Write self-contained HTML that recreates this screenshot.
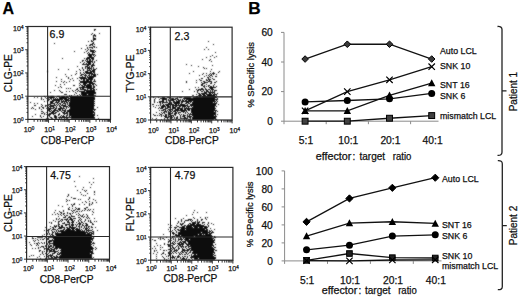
<!DOCTYPE html>
<html><head><meta charset="utf-8"><style>
html,body{margin:0;padding:0;background:#fff;}
body{width:520px;height:298px;position:relative;overflow:hidden;font-family:"Liberation Sans", sans-serif;}
text{stroke:#111;stroke-width:0.25px;}
</style></head><body>
<svg xmlns="http://www.w3.org/2000/svg" width="520" height="298" viewBox="0 0 520 298" style="position:absolute;left:0;top:0"><defs><filter id="bl" x="-5%" y="-5%" width="110%" height="110%" filterUnits="objectBoundingBox"><feConvolveMatrix order="3" kernelMatrix="1 2 1 2 12 2 1 2 1" divisor="24" edgeMode="none" preserveAlpha="false"/></filter></defs><g font-family='"Liberation Sans", sans-serif'><text x="2.6" y="13.9" font-size="16" font-weight="bold">A</text><text x="248.2" y="14.0" font-size="16" font-weight="bold" textLength="12.4" lengthAdjust="spacingAndGlyphs">B</text><path d="M94 29h2v1h-2zM94 30h1v1h-1zM92 33h1v1h-1zM99 33h1v1h-1zM91 34h1v1h-1zM94 34h1v1h-1zM93 35h3v1h-3zM93 36h1v1h-1zM95 36h1v1h-1zM93 37h1v1h-1zM93 38h3v1h-3zM93 39h3v1h-3zM91 40h1v1h-1zM93 40h1v1h-1zM88 41h1v1h-1zM91 41h2v1h-2zM93 42h1v1h-1zM54 43h1v1h-1zM92 43h2v1h-2zM90 44h3v1h-3zM94 44h1v1h-1zM86 45h1v1h-1zM89 45h2v1h-2zM92 45h1v1h-1zM93 46h2v1h-2zM87 47h1v1h-1zM89 47h4v1h-4zM94 47h1v1h-1zM96 47h1v1h-1zM81 48h1v1h-1zM87 48h1v1h-1zM92 48h1v1h-1zM85 49h1v1h-1zM88 49h1v1h-1zM90 49h1v1h-1zM87 50h1v1h-1zM90 50h5v1h-5zM74 51h1v1h-1zM86 51h1v1h-1zM90 51h4v1h-4zM95 51h1v1h-1zM84 52h1v1h-1zM88 52h1v1h-1zM92 52h3v1h-3zM87 53h1v1h-1zM89 53h1v1h-1zM92 53h1v1h-1zM88 54h7v1h-7zM88 55h4v1h-4zM93 55h1v1h-1zM95 55h1v1h-1zM89 56h3v1h-3zM94 56h1v1h-1zM87 57h7v1h-7zM62 58h1v1h-1zM84 58h1v1h-1zM86 58h4v1h-4zM91 58h3v1h-3zM86 59h2v1h-2zM89 59h2v1h-2zM92 59h2v1h-2zM82 60h2v1h-2zM85 60h1v1h-1zM87 60h1v1h-1zM89 60h2v1h-2zM92 60h1v1h-1zM96 60h1v1h-1zM82 61h1v1h-1zM86 61h7v1h-7zM94 61h1v1h-1zM80 62h1v1h-1zM84 62h1v1h-1zM87 62h4v1h-4zM92 62h1v1h-1zM94 62h1v1h-1zM83 63h1v1h-1zM86 63h1v1h-1zM88 63h3v1h-3zM93 63h1v1h-1zM82 64h9v1h-9zM92 64h2v1h-2zM87 65h2v1h-2zM91 65h4v1h-4zM77 66h1v1h-1zM85 66h3v1h-3zM89 66h1v1h-1zM91 66h2v1h-2zM82 67h1v1h-1zM85 67h1v1h-1zM87 67h3v1h-3zM91 67h1v1h-1zM93 67h1v1h-1zM82 68h1v1h-1zM85 68h1v1h-1zM87 68h5v1h-5zM93 68h1v1h-1zM96 68h1v1h-1zM58 69h1v1h-1zM68 69h1v1h-1zM79 69h1v1h-1zM83 69h1v1h-1zM87 69h1v1h-1zM89 69h1v1h-1zM91 69h1v1h-1zM93 69h3v1h-3zM80 70h1v1h-1zM83 70h1v1h-1zM87 70h4v1h-4zM92 70h3v1h-3zM47 71h1v1h-1zM76 71h1v1h-1zM85 71h3v1h-3zM90 71h5v1h-5zM80 72h1v1h-1zM83 72h1v1h-1zM85 72h7v1h-7zM93 72h2v1h-2zM76 73h1v1h-1zM80 73h1v1h-1zM84 73h1v1h-1zM86 73h7v1h-7zM94 73h1v1h-1zM65 74h1v1h-1zM75 74h1v1h-1zM81 74h3v1h-3zM85 74h1v1h-1zM89 74h1v1h-1zM91 74h5v1h-5zM97 74h1v1h-1zM71 75h1v1h-1zM80 75h2v1h-2zM84 75h3v1h-3zM88 75h2v1h-2zM91 75h1v1h-1zM93 75h3v1h-3zM66 76h1v1h-1zM82 76h1v1h-1zM85 76h1v1h-1zM87 76h1v1h-1zM89 76h7v1h-7zM56 77h1v1h-1zM68 77h1v1h-1zM79 77h7v1h-7zM87 77h7v1h-7zM68 78h1v1h-1zM72 78h1v1h-1zM77 78h1v1h-1zM80 78h7v1h-7zM88 78h5v1h-5zM61 79h1v1h-1zM70 79h1v1h-1zM81 79h1v1h-1zM83 79h2v1h-2zM86 79h7v1h-7zM94 79h1v1h-1zM73 80h1v1h-1zM79 80h1v1h-1zM83 80h2v1h-2zM86 80h3v1h-3zM90 80h2v1h-2zM94 80h1v1h-1zM56 81h1v1h-1zM61 81h1v1h-1zM64 81h1v1h-1zM69 81h1v1h-1zM80 81h12v1h-12zM93 81h3v1h-3zM63 82h1v1h-1zM66 82h1v1h-1zM80 82h13v1h-13zM79 83h1v1h-1zM83 83h4v1h-4zM89 83h6v1h-6zM60 84h1v1h-1zM64 84h1v1h-1zM80 84h1v1h-1zM83 84h3v1h-3zM87 84h4v1h-4zM92 84h2v1h-2zM95 84h1v1h-1zM55 85h1v1h-1zM73 85h2v1h-2zM79 85h1v1h-1zM81 85h2v1h-2zM84 85h8v1h-8zM93 85h1v1h-1zM96 85h1v1h-1zM60 86h1v1h-1zM82 86h3v1h-3zM86 86h6v1h-6zM93 86h2v1h-2zM58 87h1v1h-1zM61 87h1v1h-1zM79 87h13v1h-13zM93 87h2v1h-2zM66 88h1v1h-1zM68 88h1v1h-1zM70 88h1v1h-1zM77 88h1v1h-1zM80 88h1v1h-1zM82 88h2v1h-2zM87 88h7v1h-7zM76 89h2v1h-2zM80 89h6v1h-6zM87 89h1v1h-1zM90 89h2v1h-2zM93 89h2v1h-2zM96 89h1v1h-1zM54 90h1v1h-1zM59 90h1v1h-1zM72 90h1v1h-1zM75 90h1v1h-1zM78 90h1v1h-1zM84 90h11v1h-11zM60 91h1v1h-1zM66 91h1v1h-1zM69 91h1v1h-1zM73 91h1v1h-1zM77 91h1v1h-1zM79 91h6v1h-6zM86 91h9v1h-9zM50 92h1v1h-1zM61 92h2v1h-2zM75 92h1v1h-1zM81 92h15v1h-15zM76 93h1v1h-1zM81 93h15v1h-15zM64 94h3v1h-3zM74 94h1v1h-1zM79 94h1v1h-1zM81 94h6v1h-6zM88 94h6v1h-6zM69 95h1v1h-1zM71 95h1v1h-1zM77 95h1v1h-1zM80 95h1v1h-1zM82 95h14v1h-14zM44 96h1v1h-1zM47 96h2v1h-2zM50 96h4v1h-4zM57 96h3v1h-3zM61 96h4v1h-4zM66 96h2v1h-2zM69 96h25v1h-25zM34 97h1v1h-1zM37 97h1v1h-1zM41 97h1v1h-1zM45 97h1v1h-1zM48 97h7v1h-7zM56 97h1v1h-1zM59 97h10v1h-10zM70 97h25v1h-25zM41 98h1v1h-1zM46 98h1v1h-1zM48 98h1v1h-1zM50 98h2v1h-2zM53 98h1v1h-1zM55 98h1v1h-1zM57 98h1v1h-1zM59 98h8v1h-8zM68 98h27v1h-27zM41 99h1v1h-1zM43 99h1v1h-1zM48 99h2v1h-2zM51 99h1v1h-1zM53 99h10v1h-10zM64 99h5v1h-5zM70 99h25v1h-25zM47 100h2v1h-2zM52 100h8v1h-8zM61 100h1v1h-1zM63 100h1v1h-1zM65 100h29v1h-29zM44 101h1v1h-1zM47 101h1v1h-1zM50 101h4v1h-4zM56 101h1v1h-1zM58 101h2v1h-2zM61 101h6v1h-6zM68 101h1v1h-1zM70 101h25v1h-25zM30 102h1v1h-1zM50 102h3v1h-3zM55 102h4v1h-4zM61 102h2v1h-2zM64 102h1v1h-1zM66 102h2v1h-2zM69 102h25v1h-25zM34 103h1v1h-1zM37 103h1v1h-1zM50 103h5v1h-5zM57 103h1v1h-1zM59 103h2v1h-2zM63 103h3v1h-3zM67 103h1v1h-1zM69 103h26v1h-26zM41 104h1v1h-1zM48 104h3v1h-3zM54 104h1v1h-1zM56 104h1v1h-1zM58 104h1v1h-1zM60 104h1v1h-1zM62 104h1v1h-1zM65 104h1v1h-1zM67 104h1v1h-1zM69 104h25v1h-25zM34 105h2v1h-2zM42 105h1v1h-1zM45 105h2v1h-2zM48 105h1v1h-1zM50 105h6v1h-6zM57 105h1v1h-1zM59 105h1v1h-1zM61 105h5v1h-5zM68 105h27v1h-27zM41 106h1v1h-1zM45 106h1v1h-1zM47 106h1v1h-1zM49 106h5v1h-5zM56 106h1v1h-1zM59 106h2v1h-2zM63 106h5v1h-5zM69 106h25v1h-25zM32 107h1v1h-1zM39 107h1v1h-1zM42 107h2v1h-2zM47 107h2v1h-2zM50 107h1v1h-1zM53 107h2v1h-2zM56 107h1v1h-1zM60 107h2v1h-2zM63 107h1v1h-1zM66 107h1v1h-1zM68 107h1v1h-1zM70 107h24v1h-24zM97 107h1v1h-1zM31 108h1v1h-1zM33 108h1v1h-1zM39 108h1v1h-1zM43 108h1v1h-1zM46 108h1v1h-1zM48 108h6v1h-6zM55 108h2v1h-2zM58 108h7v1h-7zM66 108h1v1h-1zM70 108h24v1h-24zM35 109h1v1h-1zM41 109h1v1h-1zM48 109h3v1h-3zM54 109h2v1h-2zM58 109h3v1h-3zM62 109h1v1h-1zM65 109h1v1h-1zM69 109h27v1h-27zM47 110h3v1h-3zM51 110h1v1h-1zM53 110h5v1h-5zM59 110h2v1h-2zM62 110h4v1h-4zM67 110h26v1h-26zM94 110h1v1h-1zM41 111h2v1h-2zM49 111h2v1h-2zM52 111h3v1h-3zM57 111h2v1h-2zM61 111h1v1h-1zM64 111h2v1h-2zM67 111h27v1h-27zM43 112h1v1h-1zM46 112h1v1h-1zM51 112h3v1h-3zM55 112h2v1h-2zM62 112h3v1h-3zM66 112h2v1h-2zM69 112h26v1h-26zM41 113h2v1h-2zM44 113h1v1h-1zM49 113h7v1h-7zM59 113h1v1h-1zM63 113h5v1h-5zM69 113h24v1h-24zM94 113h1v1h-1zM35 114h1v1h-1zM44 114h1v1h-1zM46 114h1v1h-1zM48 114h3v1h-3zM53 114h1v1h-1zM58 114h2v1h-2zM64 114h1v1h-1zM67 114h1v1h-1zM69 114h26v1h-26zM40 115h1v1h-1zM48 115h2v1h-2zM54 115h2v1h-2zM58 115h1v1h-1zM61 115h1v1h-1zM63 115h1v1h-1zM66 115h2v1h-2zM69 115h26v1h-26zM97 115h1v1h-1zM32 116h1v1h-1zM40 116h1v1h-1zM43 116h1v1h-1zM47 116h1v1h-1zM49 116h1v1h-1zM54 116h3v1h-3zM60 116h1v1h-1zM62 116h3v1h-3zM66 116h1v1h-1zM69 116h1v1h-1zM71 116h23v1h-23zM41 117h1v1h-1zM50 117h2v1h-2zM54 117h3v1h-3zM58 117h37v1h-37zM46 118h3v1h-3zM51 118h2v1h-2zM55 118h2v1h-2zM59 118h1v1h-1zM61 118h1v1h-1zM64 118h1v1h-1zM66 118h2v1h-2zM71 118h24v1h-24zM98 118h1v1h-1z" fill="#111" filter="url(#bl)"/><rect x="27.9" y="26.5" width="82.60" height="92.90" fill="none" stroke="#2a2a2a" stroke-width="1.2"/><path d="M47.6 26.5V119.4M27.9 96.2H110.5" stroke="#2a2a2a" stroke-width="1.1" fill="none"/><path d="M27.90 119.4v3.4M34.12 119.4v2.4M37.75 119.4v2.4M40.33 119.4v2.4M42.33 119.4v2.4M43.97 119.4v2.4M45.35 119.4v2.4M46.55 119.4v2.4M47.61 119.4v2.4M48.55 119.4v3.4M54.77 119.4v2.4M58.40 119.4v2.4M60.98 119.4v2.4M62.98 119.4v2.4M64.62 119.4v2.4M66.00 119.4v2.4M67.20 119.4v2.4M68.26 119.4v2.4M69.20 119.4v3.4M75.42 119.4v2.4M79.05 119.4v2.4M81.63 119.4v2.4M83.63 119.4v2.4M85.27 119.4v2.4M86.65 119.4v2.4M87.85 119.4v2.4M88.91 119.4v2.4M89.85 119.4v3.4M96.07 119.4v2.4M99.70 119.4v2.4M102.28 119.4v2.4M104.28 119.4v2.4M105.92 119.4v2.4M107.30 119.4v2.4M108.50 119.4v2.4M109.56 119.4v2.4M110.50 119.4v3.4M27.9 119.40h-2.7M27.9 112.41h-1.4M27.9 108.32h-1.4M27.9 105.42h-1.4M27.9 103.17h-1.4M27.9 101.33h-1.4M27.9 99.77h-1.4M27.9 98.43h-1.4M27.9 97.24h-1.4M27.9 96.18h-2.7M27.9 89.18h-1.4M27.9 85.09h-1.4M27.9 82.19h-1.4M27.9 79.94h-1.4M27.9 78.10h-1.4M27.9 76.55h-1.4M27.9 75.20h-1.4M27.9 74.01h-1.4M27.9 72.95h-2.7M27.9 65.96h-1.4M27.9 61.87h-1.4M27.9 58.97h-1.4M27.9 56.72h-1.4M27.9 54.88h-1.4M27.9 53.32h-1.4M27.9 51.98h-1.4M27.9 50.79h-1.4M27.9 49.72h-2.7M27.9 42.73h-1.4M27.9 38.64h-1.4M27.9 35.74h-1.4M27.9 33.49h-1.4M27.9 31.65h-1.4M27.9 30.10h-1.4M27.9 28.75h-1.4M27.9 27.56h-1.4M27.9 26.50h-2.7" stroke="#222" stroke-width="0.9" fill="none"/><text x="23.70" y="132.20" font-size="7.2" fill="#222">10<tspan font-size="4.6" dy="-1.9">0</tspan></text><text x="44.35" y="132.20" font-size="7.2" fill="#222">10<tspan font-size="4.6" dy="-1.9">1</tspan></text><text x="65.00" y="132.20" font-size="7.2" fill="#222">10<tspan font-size="4.6" dy="-1.9">2</tspan></text><text x="85.65" y="132.20" font-size="7.2" fill="#222">10<tspan font-size="4.6" dy="-1.9">3</tspan></text><text x="106.30" y="132.20" font-size="7.2" fill="#222">10<tspan font-size="4.6" dy="-1.9">4</tspan></text><text x="13.10" y="122.80" font-size="7.2" fill="#222">10<tspan font-size="4.6" dy="-1.9">0</tspan></text><text x="13.10" y="99.58" font-size="7.2" fill="#222">10<tspan font-size="4.6" dy="-1.9">1</tspan></text><text x="13.10" y="76.35" font-size="7.2" fill="#222">10<tspan font-size="4.6" dy="-1.9">2</tspan></text><text x="13.10" y="53.12" font-size="7.2" fill="#222">10<tspan font-size="4.6" dy="-1.9">3</tspan></text><text x="13.10" y="31.20" font-size="7.2" fill="#222">10<tspan font-size="4.6" dy="-1.9">4</tspan></text><text x="49.6" y="38.0" font-size="10.6" fill="#111">6.9</text><text x="67.7" y="143.9" font-size="10.2" text-anchor="middle" fill="#111">CD8-PerCP</text><text transform="translate(11.6,73.2) rotate(-90)" x="0" y="0" font-size="10.2" text-anchor="middle" fill="#111">CLG-PE</text><path d="M208 41h1v1h-1zM213 44h1v1h-1zM206 47h1v1h-1zM204 49h1v1h-1zM208 49h1v1h-1zM215 52h1v1h-1zM212 55h1v1h-1zM210 56h1v1h-1zM216 56h1v1h-1zM206 57h1v1h-1zM214 57h1v1h-1zM202 59h1v1h-1zM210 59h1v1h-1zM209 60h1v1h-1zM211 61h1v1h-1zM186 64h1v1h-1zM191 65h1v1h-1zM212 65h1v1h-1zM198 66h1v1h-1zM203 67h1v1h-1zM204 68h1v1h-1zM206 68h1v1h-1zM211 69h1v1h-1zM193 71h1v1h-1zM210 71h1v1h-1zM219 71h1v1h-1zM213 72h1v1h-1zM218 72h1v1h-1zM189 73h1v1h-1zM203 73h1v1h-1zM206 73h1v1h-1zM210 73h1v1h-1zM212 73h3v1h-3zM202 74h1v1h-1zM209 74h1v1h-1zM211 74h1v1h-1zM213 74h1v1h-1zM216 74h1v1h-1zM199 75h1v1h-1zM206 75h1v1h-1zM208 75h1v1h-1zM210 75h2v1h-2zM204 76h1v1h-1zM209 76h1v1h-1zM212 76h1v1h-1zM215 76h2v1h-2zM207 77h2v1h-2zM210 77h1v1h-1zM201 78h2v1h-2zM208 78h1v1h-1zM212 78h1v1h-1zM199 79h1v1h-1zM206 79h1v1h-1zM208 79h3v1h-3zM213 79h2v1h-2zM196 80h1v1h-1zM200 80h2v1h-2zM206 80h2v1h-2zM209 80h1v1h-1zM186 81h1v1h-1zM203 81h2v1h-2zM208 81h4v1h-4zM216 81h1v1h-1zM186 82h1v1h-1zM196 82h1v1h-1zM201 82h1v1h-1zM204 82h4v1h-4zM211 82h1v1h-1zM214 82h2v1h-2zM202 83h3v1h-3zM210 83h2v1h-2zM201 84h2v1h-2zM206 84h1v1h-1zM214 84h1v1h-1zM201 85h2v1h-2zM204 85h1v1h-1zM208 85h2v1h-2zM213 85h1v1h-1zM203 86h2v1h-2zM206 86h1v1h-1zM208 86h1v1h-1zM210 86h2v1h-2zM213 86h1v1h-1zM216 86h1v1h-1zM195 87h1v1h-1zM198 87h1v1h-1zM204 87h1v1h-1zM209 87h7v1h-7zM201 88h2v1h-2zM205 88h1v1h-1zM210 88h3v1h-3zM189 89h1v1h-1zM196 89h1v1h-1zM198 89h6v1h-6zM205 89h2v1h-2zM208 89h2v1h-2zM211 89h3v1h-3zM197 90h2v1h-2zM200 90h1v1h-1zM203 90h1v1h-1zM206 90h2v1h-2zM210 90h1v1h-1zM212 90h1v1h-1zM214 90h3v1h-3zM182 91h1v1h-1zM194 91h1v1h-1zM197 91h1v1h-1zM201 91h2v1h-2zM204 91h1v1h-1zM206 91h3v1h-3zM210 91h1v1h-1zM212 91h1v1h-1zM214 91h1v1h-1zM197 92h1v1h-1zM204 92h3v1h-3zM208 92h7v1h-7zM198 93h2v1h-2zM201 93h6v1h-6zM209 93h2v1h-2zM212 93h1v1h-1zM214 93h1v1h-1zM217 93h1v1h-1zM196 94h1v1h-1zM199 94h2v1h-2zM202 94h3v1h-3zM206 94h6v1h-6zM213 94h4v1h-4zM192 95h2v1h-2zM198 95h4v1h-4zM203 95h3v1h-3zM207 95h8v1h-8zM216 95h1v1h-1zM196 96h2v1h-2zM199 96h2v1h-2zM202 96h14v1h-14zM153 97h1v1h-1zM158 97h1v1h-1zM162 97h3v1h-3zM167 97h4v1h-4zM177 97h1v1h-1zM179 97h3v1h-3zM184 97h7v1h-7zM193 97h24v1h-24zM155 98h1v1h-1zM160 98h7v1h-7zM169 98h1v1h-1zM171 98h3v1h-3zM175 98h3v1h-3zM183 98h32v1h-32zM217 98h1v1h-1zM154 99h1v1h-1zM159 99h1v1h-1zM162 99h5v1h-5zM168 99h1v1h-1zM171 99h5v1h-5zM177 99h2v1h-2zM180 99h1v1h-1zM182 99h1v1h-1zM184 99h1v1h-1zM186 99h32v1h-32zM154 100h1v1h-1zM162 100h2v1h-2zM166 100h1v1h-1zM168 100h6v1h-6zM176 100h1v1h-1zM178 100h3v1h-3zM182 100h2v1h-2zM185 100h2v1h-2zM188 100h27v1h-27zM216 100h1v1h-1zM154 101h1v1h-1zM159 101h5v1h-5zM166 101h1v1h-1zM169 101h1v1h-1zM173 101h2v1h-2zM176 101h4v1h-4zM181 101h11v1h-11zM193 101h23v1h-23zM217 101h1v1h-1zM154 102h1v1h-1zM157 102h1v1h-1zM159 102h2v1h-2zM162 102h6v1h-6zM169 102h3v1h-3zM173 102h7v1h-7zM181 102h2v1h-2zM186 102h3v1h-3zM190 102h1v1h-1zM192 102h21v1h-21zM214 102h1v1h-1zM216 102h1v1h-1zM160 103h1v1h-1zM162 103h1v1h-1zM168 103h4v1h-4zM174 103h6v1h-6zM181 103h1v1h-1zM185 103h2v1h-2zM188 103h2v1h-2zM192 103h25v1h-25zM152 104h2v1h-2zM160 104h1v1h-1zM163 104h1v1h-1zM165 104h9v1h-9zM175 104h2v1h-2zM178 104h1v1h-1zM180 104h5v1h-5zM187 104h1v1h-1zM190 104h26v1h-26zM218 104h1v1h-1zM156 105h1v1h-1zM158 105h1v1h-1zM160 105h1v1h-1zM162 105h3v1h-3zM166 105h3v1h-3zM170 105h1v1h-1zM172 105h16v1h-16zM190 105h26v1h-26zM153 106h1v1h-1zM161 106h5v1h-5zM167 106h3v1h-3zM172 106h2v1h-2zM175 106h2v1h-2zM179 106h2v1h-2zM182 106h4v1h-4zM187 106h3v1h-3zM191 106h1v1h-1zM193 106h22v1h-22zM216 106h1v1h-1zM155 107h1v1h-1zM159 107h1v1h-1zM161 107h3v1h-3zM165 107h1v1h-1zM167 107h4v1h-4zM172 107h4v1h-4zM177 107h3v1h-3zM182 107h1v1h-1zM184 107h1v1h-1zM186 107h1v1h-1zM188 107h1v1h-1zM192 107h23v1h-23zM158 108h1v1h-1zM160 108h3v1h-3zM165 108h3v1h-3zM172 108h4v1h-4zM177 108h6v1h-6zM184 108h32v1h-32zM163 109h3v1h-3zM168 109h5v1h-5zM175 109h4v1h-4zM180 109h3v1h-3zM184 109h2v1h-2zM187 109h3v1h-3zM191 109h24v1h-24zM159 110h1v1h-1zM161 110h3v1h-3zM165 110h1v1h-1zM167 110h1v1h-1zM169 110h2v1h-2zM172 110h1v1h-1zM174 110h13v1h-13zM188 110h2v1h-2zM191 110h26v1h-26zM164 111h3v1h-3zM168 111h1v1h-1zM170 111h2v1h-2zM173 111h3v1h-3zM177 111h1v1h-1zM181 111h4v1h-4zM186 111h1v1h-1zM191 111h23v1h-23zM215 111h1v1h-1zM217 111h1v1h-1zM156 112h1v1h-1zM161 112h1v1h-1zM163 112h2v1h-2zM166 112h1v1h-1zM168 112h2v1h-2zM172 112h1v1h-1zM175 112h2v1h-2zM178 112h3v1h-3zM183 112h1v1h-1zM185 112h1v1h-1zM187 112h1v1h-1zM191 112h25v1h-25zM159 113h1v1h-1zM162 113h1v1h-1zM164 113h1v1h-1zM168 113h5v1h-5zM174 113h3v1h-3zM178 113h1v1h-1zM185 113h1v1h-1zM188 113h1v1h-1zM190 113h1v1h-1zM192 113h24v1h-24zM153 114h1v1h-1zM160 114h2v1h-2zM165 114h2v1h-2zM168 114h3v1h-3zM174 114h2v1h-2zM179 114h1v1h-1zM181 114h1v1h-1zM183 114h1v1h-1zM187 114h1v1h-1zM189 114h27v1h-27zM217 114h1v1h-1zM154 115h2v1h-2zM157 115h1v1h-1zM159 115h1v1h-1zM161 115h1v1h-1zM163 115h1v1h-1zM165 115h2v1h-2zM168 115h1v1h-1zM170 115h4v1h-4zM175 115h1v1h-1zM180 115h1v1h-1zM183 115h3v1h-3zM187 115h1v1h-1zM189 115h1v1h-1zM192 115h22v1h-22zM215 115h1v1h-1zM161 116h1v1h-1zM164 116h3v1h-3zM168 116h4v1h-4zM173 116h1v1h-1zM177 116h1v1h-1zM180 116h1v1h-1zM182 116h3v1h-3zM187 116h5v1h-5zM193 116h24v1h-24zM165 117h4v1h-4zM170 117h3v1h-3zM174 117h1v1h-1zM176 117h2v1h-2zM180 117h1v1h-1zM184 117h2v1h-2zM187 117h1v1h-1zM189 117h2v1h-2zM192 117h24v1h-24zM152 118h1v1h-1zM156 118h1v1h-1zM164 118h1v1h-1zM167 118h1v1h-1zM170 118h2v1h-2zM174 118h1v1h-1zM176 118h2v1h-2zM180 118h8v1h-8zM190 118h1v1h-1zM192 118h24v1h-24zM155 119h1v1h-1zM161 119h1v1h-1zM164 119h1v1h-1zM167 119h2v1h-2zM171 119h3v1h-3zM175 119h2v1h-2zM178 119h2v1h-2zM184 119h1v1h-1zM186 119h1v1h-1zM188 119h3v1h-3zM192 119h22v1h-22zM215 119h2v1h-2z" fill="#111" filter="url(#bl)"/><rect x="150.6" y="27.2" width="81.50" height="92.80" fill="none" stroke="#2a2a2a" stroke-width="1.2"/><path d="M170.3 27.2V120.0M150.6 96.9H232.1" stroke="#2a2a2a" stroke-width="1.1" fill="none"/><path d="M150.60 120.0v3.4M156.73 120.0v2.4M160.32 120.0v2.4M162.87 120.0v2.4M164.84 120.0v2.4M166.45 120.0v2.4M167.82 120.0v2.4M169.00 120.0v2.4M170.04 120.0v2.4M170.97 120.0v3.4M177.11 120.0v2.4M180.70 120.0v2.4M183.24 120.0v2.4M185.22 120.0v2.4M186.83 120.0v2.4M188.19 120.0v2.4M189.38 120.0v2.4M190.42 120.0v2.4M191.35 120.0v3.4M197.48 120.0v2.4M201.07 120.0v2.4M203.62 120.0v2.4M205.59 120.0v2.4M207.20 120.0v2.4M208.57 120.0v2.4M209.75 120.0v2.4M210.79 120.0v2.4M211.72 120.0v3.4M217.86 120.0v2.4M221.45 120.0v2.4M223.99 120.0v2.4M225.97 120.0v2.4M227.58 120.0v2.4M228.94 120.0v2.4M230.13 120.0v2.4M231.17 120.0v2.4M232.10 120.0v3.4M150.6 120.00h-2.7M150.6 113.02h-1.4M150.6 108.93h-1.4M150.6 106.03h-1.4M150.6 103.78h-1.4M150.6 101.95h-1.4M150.6 100.39h-1.4M150.6 99.05h-1.4M150.6 97.86h-1.4M150.6 96.80h-2.7M150.6 89.82h-1.4M150.6 85.73h-1.4M150.6 82.83h-1.4M150.6 80.58h-1.4M150.6 78.75h-1.4M150.6 77.19h-1.4M150.6 75.85h-1.4M150.6 74.66h-1.4M150.6 73.60h-2.7M150.6 66.62h-1.4M150.6 62.53h-1.4M150.6 59.63h-1.4M150.6 57.38h-1.4M150.6 55.55h-1.4M150.6 53.99h-1.4M150.6 52.65h-1.4M150.6 51.46h-1.4M150.6 50.40h-2.7M150.6 43.42h-1.4M150.6 39.33h-1.4M150.6 36.43h-1.4M150.6 34.18h-1.4M150.6 32.35h-1.4M150.6 30.79h-1.4M150.6 29.45h-1.4M150.6 28.26h-1.4M150.6 27.20h-2.7" stroke="#222" stroke-width="0.9" fill="none"/><text x="148.00" y="132.80" font-size="7.2" fill="#222">10<tspan font-size="4.6" dy="-1.9">0</tspan></text><text x="168.38" y="132.80" font-size="7.2" fill="#222">10<tspan font-size="4.6" dy="-1.9">1</tspan></text><text x="188.75" y="132.80" font-size="7.2" fill="#222">10<tspan font-size="4.6" dy="-1.9">2</tspan></text><text x="209.12" y="132.80" font-size="7.2" fill="#222">10<tspan font-size="4.6" dy="-1.9">3</tspan></text><text x="229.50" y="132.80" font-size="7.2" fill="#222">10<tspan font-size="4.6" dy="-1.9">4</tspan></text><text x="135.80" y="123.40" font-size="7.2" fill="#222">10<tspan font-size="4.6" dy="-1.9">0</tspan></text><text x="135.80" y="100.20" font-size="7.2" fill="#222">10<tspan font-size="4.6" dy="-1.9">1</tspan></text><text x="135.80" y="77.00" font-size="7.2" fill="#222">10<tspan font-size="4.6" dy="-1.9">2</tspan></text><text x="135.80" y="53.80" font-size="7.2" fill="#222">10<tspan font-size="4.6" dy="-1.9">3</tspan></text><text x="135.80" y="31.90" font-size="7.2" fill="#222">10<tspan font-size="4.6" dy="-1.9">4</tspan></text><text x="174.6" y="39.7" font-size="10.6" fill="#111">2.3</text><text x="191.8" y="143.6" font-size="10.2" text-anchor="middle" fill="#111">CD8-PerCP</text><text transform="translate(133.5,73.5) rotate(-90)" x="0" y="0" font-size="10.2" text-anchor="middle" fill="#111">TYG-PE</text><path d="M79 176h1v1h-1zM93 178h1v1h-1zM74 181h1v1h-1zM89 182h1v1h-1zM93 182h1v1h-1zM91 184h1v1h-1zM75 186h1v1h-1zM83 187h1v1h-1zM90 187h1v1h-1zM82 189h1v1h-1zM77 190h1v1h-1zM84 190h1v1h-1zM86 190h1v1h-1zM85 191h1v1h-1zM94 191h1v1h-1zM80 192h1v1h-1zM94 192h1v1h-1zM87 193h1v1h-1zM68 194h1v1h-1zM81 194h1v1h-1zM94 194h1v1h-1zM68 195h1v1h-1zM83 195h1v1h-1zM85 195h1v1h-1zM67 196h1v1h-1zM71 197h1v1h-1zM89 197h1v1h-1zM73 198h3v1h-3zM89 198h1v1h-1zM66 199h1v1h-1zM78 199h1v1h-1zM80 199h1v1h-1zM88 199h1v1h-1zM93 199h1v1h-1zM67 200h1v1h-1zM69 200h1v1h-1zM95 200h1v1h-1zM66 201h1v1h-1zM85 201h1v1h-1zM89 201h1v1h-1zM82 202h1v1h-1zM86 202h1v1h-1zM92 202h1v1h-1zM96 202h1v1h-1zM74 203h1v1h-1zM89 203h1v1h-1zM92 203h1v1h-1zM67 204h1v1h-1zM71 204h1v1h-1zM73 204h2v1h-2zM79 204h1v1h-1zM84 204h1v1h-1zM89 204h1v1h-1zM91 204h1v1h-1zM58 205h1v1h-1zM72 205h1v1h-1zM89 205h1v1h-1zM62 206h1v1h-1zM72 206h1v1h-1zM69 207h1v1h-1zM75 207h1v1h-1zM86 207h2v1h-2zM68 208h1v1h-1zM72 208h1v1h-1zM76 208h1v1h-1zM78 208h2v1h-2zM84 208h2v1h-2zM68 209h2v1h-2zM75 209h1v1h-1zM77 209h3v1h-3zM85 209h1v1h-1zM88 209h1v1h-1zM90 209h1v1h-1zM93 209h1v1h-1zM55 210h1v1h-1zM63 210h1v1h-1zM71 210h1v1h-1zM73 210h2v1h-2zM82 210h1v1h-1zM84 210h1v1h-1zM87 210h1v1h-1zM89 210h1v1h-1zM59 211h1v1h-1zM63 211h1v1h-1zM72 211h1v1h-1zM76 211h2v1h-2zM79 211h1v1h-1zM81 211h1v1h-1zM92 211h1v1h-1zM54 212h1v1h-1zM60 212h2v1h-2zM67 212h1v1h-1zM73 212h1v1h-1zM75 212h1v1h-1zM93 212h1v1h-1zM57 213h1v1h-1zM61 213h1v1h-1zM63 213h2v1h-2zM67 213h1v1h-1zM69 213h2v1h-2zM72 213h1v1h-1zM78 213h1v1h-1zM52 214h1v1h-1zM55 214h1v1h-1zM58 214h1v1h-1zM60 214h1v1h-1zM63 214h1v1h-1zM70 214h1v1h-1zM76 214h1v1h-1zM79 214h1v1h-1zM83 214h1v1h-1zM86 214h1v1h-1zM92 214h1v1h-1zM61 215h1v1h-1zM64 215h1v1h-1zM66 215h2v1h-2zM71 215h1v1h-1zM78 215h1v1h-1zM80 215h1v1h-1zM82 215h1v1h-1zM87 215h1v1h-1zM58 216h1v1h-1zM65 216h1v1h-1zM69 216h1v1h-1zM71 216h4v1h-4zM81 216h2v1h-2zM84 216h1v1h-1zM87 216h1v1h-1zM63 217h3v1h-3zM68 217h3v1h-3zM78 217h2v1h-2zM83 217h1v1h-1zM86 217h1v1h-1zM88 217h1v1h-1zM56 218h1v1h-1zM59 218h1v1h-1zM67 218h1v1h-1zM70 218h2v1h-2zM73 218h3v1h-3zM80 218h1v1h-1zM87 218h1v1h-1zM89 218h1v1h-1zM94 218h1v1h-1zM56 219h1v1h-1zM58 219h1v1h-1zM61 219h2v1h-2zM64 219h4v1h-4zM69 219h4v1h-4zM79 219h1v1h-1zM81 219h1v1h-1zM85 219h1v1h-1zM53 220h1v1h-1zM60 220h1v1h-1zM62 220h1v1h-1zM66 220h1v1h-1zM68 220h1v1h-1zM71 220h2v1h-2zM74 220h1v1h-1zM78 220h1v1h-1zM80 220h1v1h-1zM85 220h1v1h-1zM88 220h1v1h-1zM90 220h1v1h-1zM55 221h1v1h-1zM58 221h2v1h-2zM61 221h1v1h-1zM67 221h2v1h-2zM72 221h2v1h-2zM78 221h1v1h-1zM81 221h1v1h-1zM84 221h1v1h-1zM88 221h1v1h-1zM90 221h1v1h-1zM94 221h1v1h-1zM96 221h1v1h-1zM49 222h1v1h-1zM51 222h1v1h-1zM58 222h1v1h-1zM64 222h1v1h-1zM67 222h3v1h-3zM71 222h3v1h-3zM76 222h1v1h-1zM79 222h1v1h-1zM81 222h2v1h-2zM90 222h2v1h-2zM51 223h1v1h-1zM58 223h1v1h-1zM62 223h3v1h-3zM69 223h1v1h-1zM72 223h1v1h-1zM78 223h3v1h-3zM83 223h1v1h-1zM85 223h2v1h-2zM92 223h1v1h-1zM58 224h2v1h-2zM65 224h5v1h-5zM71 224h3v1h-3zM75 224h1v1h-1zM77 224h1v1h-1zM79 224h2v1h-2zM82 224h1v1h-1zM86 224h2v1h-2zM92 224h2v1h-2zM54 225h1v1h-1zM56 225h1v1h-1zM58 225h1v1h-1zM61 225h2v1h-2zM65 225h2v1h-2zM69 225h1v1h-1zM71 225h3v1h-3zM76 225h1v1h-1zM79 225h1v1h-1zM82 225h2v1h-2zM85 225h3v1h-3zM50 226h1v1h-1zM54 226h3v1h-3zM58 226h2v1h-2zM61 226h2v1h-2zM69 226h2v1h-2zM72 226h1v1h-1zM76 226h1v1h-1zM78 226h2v1h-2zM81 226h1v1h-1zM84 226h1v1h-1zM86 226h1v1h-1zM88 226h2v1h-2zM91 226h1v1h-1zM45 227h1v1h-1zM52 227h2v1h-2zM55 227h1v1h-1zM59 227h6v1h-6zM66 227h2v1h-2zM69 227h7v1h-7zM79 227h1v1h-1zM81 227h1v1h-1zM84 227h1v1h-1zM86 227h1v1h-1zM88 227h1v1h-1zM91 227h2v1h-2zM95 227h1v1h-1zM50 228h1v1h-1zM53 228h1v1h-1zM58 228h4v1h-4zM64 228h1v1h-1zM67 228h3v1h-3zM71 228h4v1h-4zM76 228h2v1h-2zM79 228h1v1h-1zM83 228h1v1h-1zM85 228h3v1h-3zM89 228h1v1h-1zM46 229h1v1h-1zM48 229h2v1h-2zM52 229h4v1h-4zM57 229h1v1h-1zM63 229h2v1h-2zM66 229h5v1h-5zM72 229h2v1h-2zM75 229h5v1h-5zM81 229h1v1h-1zM85 229h2v1h-2zM88 229h1v1h-1zM92 229h1v1h-1zM44 230h1v1h-1zM47 230h2v1h-2zM51 230h1v1h-1zM56 230h1v1h-1zM58 230h1v1h-1zM60 230h4v1h-4zM65 230h10v1h-10zM76 230h5v1h-5zM82 230h1v1h-1zM84 230h1v1h-1zM86 230h6v1h-6zM97 230h1v1h-1zM46 231h1v1h-1zM48 231h1v1h-1zM52 231h1v1h-1zM54 231h1v1h-1zM56 231h1v1h-1zM58 231h27v1h-27zM86 231h1v1h-1zM88 231h1v1h-1zM92 231h2v1h-2zM48 232h1v1h-1zM52 232h2v1h-2zM55 232h1v1h-1zM57 232h1v1h-1zM61 232h27v1h-27zM89 232h3v1h-3zM93 232h1v1h-1zM46 233h2v1h-2zM49 233h1v1h-1zM52 233h1v1h-1zM55 233h31v1h-31zM87 233h3v1h-3zM91 233h3v1h-3zM44 234h1v1h-1zM47 234h1v1h-1zM49 234h1v1h-1zM51 234h2v1h-2zM55 234h37v1h-37zM93 234h1v1h-1zM42 235h1v1h-1zM50 235h1v1h-1zM52 235h2v1h-2zM56 235h36v1h-36zM44 236h1v1h-1zM47 236h1v1h-1zM50 236h1v1h-1zM52 236h40v1h-40zM93 236h1v1h-1zM32 237h1v1h-1zM37 237h6v1h-6zM45 237h1v1h-1zM48 237h44v1h-44zM93 237h1v1h-1zM32 238h2v1h-2zM35 238h1v1h-1zM44 238h1v1h-1zM47 238h2v1h-2zM53 238h41v1h-41zM37 239h1v1h-1zM40 239h1v1h-1zM42 239h2v1h-2zM46 239h3v1h-3zM52 239h1v1h-1zM54 239h39v1h-39zM33 240h1v1h-1zM35 240h1v1h-1zM38 240h1v1h-1zM49 240h42v1h-42zM92 240h1v1h-1zM34 241h1v1h-1zM46 241h1v1h-1zM48 241h4v1h-4zM53 241h39v1h-39zM29 242h1v1h-1zM38 242h1v1h-1zM41 242h1v1h-1zM44 242h1v1h-1zM48 242h2v1h-2zM53 242h39v1h-39zM93 242h1v1h-1zM34 243h1v1h-1zM36 243h2v1h-2zM39 243h1v1h-1zM42 243h1v1h-1zM44 243h1v1h-1zM47 243h1v1h-1zM49 243h42v1h-42zM92 243h3v1h-3zM30 244h1v1h-1zM37 244h1v1h-1zM47 244h1v1h-1zM49 244h1v1h-1zM53 244h39v1h-39zM31 245h1v1h-1zM36 245h1v1h-1zM38 245h1v1h-1zM45 245h1v1h-1zM48 245h1v1h-1zM50 245h2v1h-2zM53 245h38v1h-38zM93 245h1v1h-1zM41 246h3v1h-3zM45 246h2v1h-2zM48 246h4v1h-4zM53 246h1v1h-1zM55 246h37v1h-37zM38 247h1v1h-1zM40 247h1v1h-1zM43 247h1v1h-1zM48 247h2v1h-2zM52 247h2v1h-2zM55 247h38v1h-38zM95 247h1v1h-1zM32 248h1v1h-1zM35 248h1v1h-1zM38 248h1v1h-1zM44 248h2v1h-2zM47 248h2v1h-2zM50 248h2v1h-2zM54 248h4v1h-4zM59 248h35v1h-35zM96 248h1v1h-1zM44 249h1v1h-1zM46 249h4v1h-4zM51 249h4v1h-4zM56 249h1v1h-1zM61 249h32v1h-32zM95 249h1v1h-1zM39 250h2v1h-2zM47 250h1v1h-1zM49 250h3v1h-3zM53 250h2v1h-2zM58 250h1v1h-1zM60 250h31v1h-31zM92 250h1v1h-1zM39 251h1v1h-1zM42 251h1v1h-1zM44 251h1v1h-1zM47 251h1v1h-1zM49 251h9v1h-9zM61 251h32v1h-32zM42 252h1v1h-1zM46 252h1v1h-1zM49 252h1v1h-1zM54 252h2v1h-2zM58 252h1v1h-1zM60 252h33v1h-33zM42 253h1v1h-1zM45 253h1v1h-1zM48 253h1v1h-1zM52 253h3v1h-3zM57 253h1v1h-1zM59 253h31v1h-31zM91 253h3v1h-3zM40 254h1v1h-1zM43 254h1v1h-1zM46 254h2v1h-2zM50 254h1v1h-1zM52 254h1v1h-1zM57 254h3v1h-3zM61 254h31v1h-31zM31 255h1v1h-1zM33 255h1v1h-1zM46 255h1v1h-1zM48 255h5v1h-5zM56 255h1v1h-1zM60 255h32v1h-32zM29 256h1v1h-1zM39 256h1v1h-1zM44 256h1v1h-1zM47 256h2v1h-2zM50 256h2v1h-2zM53 256h2v1h-2zM56 256h2v1h-2zM59 256h33v1h-33zM37 257h1v1h-1zM46 257h1v1h-1zM48 257h1v1h-1zM51 257h2v1h-2zM54 257h38v1h-38zM93 257h1v1h-1zM40 258h1v1h-1zM45 258h2v1h-2zM48 258h9v1h-9zM59 258h34v1h-34z" fill="#111" filter="url(#bl)"/><rect x="26.6" y="166.6" width="82.90" height="92.60" fill="none" stroke="#2a2a2a" stroke-width="1.2"/><path d="M46.6 166.6V259.2M26.6 236.5H109.5" stroke="#2a2a2a" stroke-width="1.1" fill="none"/><path d="M26.60 259.2v3.4M32.84 259.2v2.4M36.49 259.2v2.4M39.08 259.2v2.4M41.09 259.2v2.4M42.73 259.2v2.4M44.11 259.2v2.4M45.32 259.2v2.4M46.38 259.2v2.4M47.33 259.2v3.4M53.56 259.2v2.4M57.21 259.2v2.4M59.80 259.2v2.4M61.81 259.2v2.4M63.45 259.2v2.4M64.84 259.2v2.4M66.04 259.2v2.4M67.10 259.2v2.4M68.05 259.2v3.4M74.29 259.2v2.4M77.94 259.2v2.4M80.53 259.2v2.4M82.54 259.2v2.4M84.18 259.2v2.4M85.56 259.2v2.4M86.77 259.2v2.4M87.83 259.2v2.4M88.78 259.2v3.4M95.01 259.2v2.4M98.66 259.2v2.4M101.25 259.2v2.4M103.26 259.2v2.4M104.90 259.2v2.4M106.29 259.2v2.4M107.49 259.2v2.4M108.55 259.2v2.4M109.50 259.2v3.4M26.6 259.20h-2.7M26.6 252.23h-1.4M26.6 248.15h-1.4M26.6 245.26h-1.4M26.6 243.02h-1.4M26.6 241.19h-1.4M26.6 239.64h-1.4M26.6 238.29h-1.4M26.6 237.11h-1.4M26.6 236.05h-2.7M26.6 229.08h-1.4M26.6 225.00h-1.4M26.6 222.11h-1.4M26.6 219.87h-1.4M26.6 218.04h-1.4M26.6 216.49h-1.4M26.6 215.14h-1.4M26.6 213.96h-1.4M26.6 212.90h-2.7M26.6 205.93h-1.4M26.6 201.85h-1.4M26.6 198.96h-1.4M26.6 196.72h-1.4M26.6 194.89h-1.4M26.6 193.34h-1.4M26.6 191.99h-1.4M26.6 190.81h-1.4M26.6 189.75h-2.7M26.6 182.78h-1.4M26.6 178.70h-1.4M26.6 175.81h-1.4M26.6 173.57h-1.4M26.6 171.74h-1.4M26.6 170.19h-1.4M26.6 168.84h-1.4M26.6 167.66h-1.4M26.6 166.60h-2.7" stroke="#222" stroke-width="0.9" fill="none"/><text x="22.90" y="270.70" font-size="7.2" fill="#222">10<tspan font-size="4.6" dy="-1.9">0</tspan></text><text x="43.62" y="270.70" font-size="7.2" fill="#222">10<tspan font-size="4.6" dy="-1.9">1</tspan></text><text x="64.35" y="270.70" font-size="7.2" fill="#222">10<tspan font-size="4.6" dy="-1.9">2</tspan></text><text x="85.08" y="270.70" font-size="7.2" fill="#222">10<tspan font-size="4.6" dy="-1.9">3</tspan></text><text x="105.80" y="270.70" font-size="7.2" fill="#222">10<tspan font-size="4.6" dy="-1.9">4</tspan></text><text x="11.80" y="262.60" font-size="7.2" fill="#222">10<tspan font-size="4.6" dy="-1.9">0</tspan></text><text x="11.80" y="239.45" font-size="7.2" fill="#222">10<tspan font-size="4.6" dy="-1.9">1</tspan></text><text x="11.80" y="216.30" font-size="7.2" fill="#222">10<tspan font-size="4.6" dy="-1.9">2</tspan></text><text x="11.80" y="193.15" font-size="7.2" fill="#222">10<tspan font-size="4.6" dy="-1.9">3</tspan></text><text x="11.80" y="171.30" font-size="7.2" fill="#222">10<tspan font-size="4.6" dy="-1.9">4</tspan></text><text x="50.2" y="178.8" font-size="10.6" fill="#111">4.75</text><text x="66.6" y="282.6" font-size="10.2" text-anchor="middle" fill="#111">CD8-PerCP</text><text transform="translate(11.6,213.1) rotate(-90)" x="0" y="0" font-size="10.2" text-anchor="middle" fill="#111">CLG-PE</text><path d="M194 210h1v1h-1zM193 212h1v1h-1zM197 212h1v1h-1zM206 212h1v1h-1zM192 214h1v1h-1zM186 215h1v1h-1zM193 217h1v1h-1zM200 217h1v1h-1zM205 217h1v1h-1zM207 217h1v1h-1zM175 218h1v1h-1zM183 218h1v1h-1zM194 218h1v1h-1zM205 218h1v1h-1zM181 219h1v1h-1zM188 219h4v1h-4zM197 219h1v1h-1zM201 219h2v1h-2zM206 219h1v1h-1zM181 220h1v1h-1zM185 220h4v1h-4zM190 220h1v1h-1zM192 220h1v1h-1zM197 220h1v1h-1zM201 220h1v1h-1zM178 221h1v1h-1zM181 221h1v1h-1zM184 221h1v1h-1zM191 221h1v1h-1zM195 221h1v1h-1zM197 221h1v1h-1zM199 221h1v1h-1zM178 222h1v1h-1zM184 222h1v1h-1zM192 222h4v1h-4zM197 222h3v1h-3zM202 222h3v1h-3zM208 222h1v1h-1zM177 223h1v1h-1zM180 223h1v1h-1zM182 223h2v1h-2zM189 223h2v1h-2zM192 223h4v1h-4zM197 223h2v1h-2zM202 223h1v1h-1zM208 223h1v1h-1zM211 223h1v1h-1zM168 224h1v1h-1zM180 224h3v1h-3zM188 224h1v1h-1zM190 224h5v1h-5zM196 224h5v1h-5zM204 224h1v1h-1zM207 224h1v1h-1zM213 224h1v1h-1zM171 225h1v1h-1zM176 225h1v1h-1zM181 225h1v1h-1zM184 225h2v1h-2zM187 225h17v1h-17zM208 225h1v1h-1zM177 226h2v1h-2zM182 226h3v1h-3zM186 226h6v1h-6zM193 226h14v1h-14zM208 226h1v1h-1zM169 227h1v1h-1zM171 227h1v1h-1zM174 227h3v1h-3zM179 227h6v1h-6zM186 227h7v1h-7zM194 227h4v1h-4zM199 227h4v1h-4zM204 227h4v1h-4zM175 228h1v1h-1zM181 228h26v1h-26zM210 228h1v1h-1zM168 229h1v1h-1zM174 229h1v1h-1zM177 229h2v1h-2zM180 229h5v1h-5zM186 229h19v1h-19zM206 229h2v1h-2zM214 229h1v1h-1zM172 230h1v1h-1zM175 230h1v1h-1zM178 230h30v1h-30zM209 230h1v1h-1zM211 230h1v1h-1zM169 231h1v1h-1zM171 231h1v1h-1zM176 231h1v1h-1zM180 231h28v1h-28zM209 231h2v1h-2zM212 231h1v1h-1zM172 232h2v1h-2zM176 232h1v1h-1zM178 232h23v1h-23zM202 232h8v1h-8zM211 232h3v1h-3zM172 233h3v1h-3zM178 233h30v1h-30zM209 233h3v1h-3zM163 234h1v1h-1zM173 234h1v1h-1zM175 234h2v1h-2zM178 234h20v1h-20zM199 234h3v1h-3zM203 234h1v1h-1zM205 234h6v1h-6zM175 235h5v1h-5zM181 235h31v1h-31zM172 236h3v1h-3zM176 236h18v1h-18zM195 236h18v1h-18zM214 236h1v1h-1zM160 237h1v1h-1zM166 237h1v1h-1zM172 237h1v1h-1zM180 237h1v1h-1zM183 237h29v1h-29zM214 237h2v1h-2zM158 238h1v1h-1zM160 238h1v1h-1zM162 238h2v1h-2zM171 238h1v1h-1zM173 238h1v1h-1zM175 238h1v1h-1zM178 238h1v1h-1zM180 238h2v1h-2zM183 238h1v1h-1zM185 238h29v1h-29zM152 239h1v1h-1zM160 239h1v1h-1zM164 239h1v1h-1zM168 239h1v1h-1zM170 239h1v1h-1zM173 239h1v1h-1zM175 239h1v1h-1zM178 239h5v1h-5zM184 239h5v1h-5zM190 239h23v1h-23zM214 239h1v1h-1zM154 240h2v1h-2zM169 240h1v1h-1zM171 240h1v1h-1zM175 240h1v1h-1zM178 240h1v1h-1zM181 240h1v1h-1zM185 240h30v1h-30zM168 241h2v1h-2zM173 241h1v1h-1zM175 241h1v1h-1zM177 241h1v1h-1zM180 241h1v1h-1zM182 241h4v1h-4zM187 241h27v1h-27zM168 242h1v1h-1zM172 242h1v1h-1zM174 242h1v1h-1zM179 242h3v1h-3zM183 242h3v1h-3zM188 242h27v1h-27zM156 243h1v1h-1zM164 243h1v1h-1zM171 243h3v1h-3zM175 243h1v1h-1zM177 243h3v1h-3zM181 243h3v1h-3zM185 243h2v1h-2zM188 243h25v1h-25zM164 244h1v1h-1zM167 244h3v1h-3zM173 244h2v1h-2zM178 244h6v1h-6zM186 244h27v1h-27zM215 244h1v1h-1zM157 245h1v1h-1zM160 245h1v1h-1zM168 245h2v1h-2zM171 245h2v1h-2zM177 245h1v1h-1zM179 245h2v1h-2zM182 245h1v1h-1zM187 245h2v1h-2zM190 245h24v1h-24zM154 246h1v1h-1zM168 246h3v1h-3zM172 246h1v1h-1zM176 246h1v1h-1zM178 246h1v1h-1zM180 246h4v1h-4zM185 246h2v1h-2zM188 246h24v1h-24zM213 246h1v1h-1zM160 247h1v1h-1zM162 247h1v1h-1zM172 247h2v1h-2zM175 247h1v1h-1zM178 247h1v1h-1zM181 247h1v1h-1zM183 247h1v1h-1zM185 247h1v1h-1zM188 247h1v1h-1zM191 247h22v1h-22zM214 247h2v1h-2zM152 248h1v1h-1zM155 248h1v1h-1zM170 248h2v1h-2zM173 248h2v1h-2zM178 248h2v1h-2zM182 248h1v1h-1zM186 248h1v1h-1zM189 248h25v1h-25zM160 249h1v1h-1zM168 249h3v1h-3zM172 249h1v1h-1zM174 249h1v1h-1zM176 249h1v1h-1zM178 249h1v1h-1zM182 249h3v1h-3zM187 249h3v1h-3zM191 249h24v1h-24zM154 250h1v1h-1zM156 250h1v1h-1zM163 250h2v1h-2zM166 250h1v1h-1zM170 250h2v1h-2zM174 250h4v1h-4zM182 250h7v1h-7zM190 250h24v1h-24zM215 250h2v1h-2zM154 251h1v1h-1zM169 251h1v1h-1zM171 251h1v1h-1zM173 251h2v1h-2zM176 251h1v1h-1zM181 251h2v1h-2zM184 251h1v1h-1zM187 251h1v1h-1zM190 251h1v1h-1zM193 251h21v1h-21zM157 252h1v1h-1zM163 252h1v1h-1zM168 252h2v1h-2zM172 252h1v1h-1zM175 252h1v1h-1zM178 252h1v1h-1zM180 252h1v1h-1zM182 252h2v1h-2zM185 252h2v1h-2zM189 252h2v1h-2zM192 252h23v1h-23zM153 253h1v1h-1zM162 253h2v1h-2zM168 253h4v1h-4zM173 253h1v1h-1zM176 253h1v1h-1zM179 253h1v1h-1zM181 253h1v1h-1zM186 253h1v1h-1zM188 253h1v1h-1zM192 253h21v1h-21zM214 253h1v1h-1zM156 254h1v1h-1zM161 254h1v1h-1zM165 254h1v1h-1zM169 254h2v1h-2zM179 254h2v1h-2zM182 254h1v1h-1zM184 254h2v1h-2zM187 254h1v1h-1zM191 254h1v1h-1zM194 254h2v1h-2zM197 254h17v1h-17zM168 255h2v1h-2zM172 255h1v1h-1zM178 255h1v1h-1zM189 255h1v1h-1zM191 255h1v1h-1zM193 255h20v1h-20zM214 255h2v1h-2zM156 256h1v1h-1zM162 256h1v1h-1zM166 256h1v1h-1zM168 256h1v1h-1zM172 256h2v1h-2zM175 256h1v1h-1zM177 256h3v1h-3zM182 256h1v1h-1zM184 256h2v1h-2zM187 256h1v1h-1zM191 256h23v1h-23zM163 257h1v1h-1zM171 257h4v1h-4zM177 257h2v1h-2zM180 257h1v1h-1zM183 257h1v1h-1zM187 257h1v1h-1zM190 257h26v1h-26zM156 258h1v1h-1zM164 258h1v1h-1zM168 258h1v1h-1zM170 258h1v1h-1zM172 258h1v1h-1zM174 258h1v1h-1zM176 258h1v1h-1zM180 258h1v1h-1zM182 258h3v1h-3zM186 258h1v1h-1zM191 258h1v1h-1zM194 258h4v1h-4zM199 258h17v1h-17zM164 259h1v1h-1zM166 259h1v1h-1zM176 259h1v1h-1zM181 259h6v1h-6zM188 259h2v1h-2zM192 259h1v1h-1zM194 259h21v1h-21z" fill="#111" filter="url(#bl)"/><rect x="150.7" y="167.4" width="82.20" height="92.80" fill="none" stroke="#2a2a2a" stroke-width="1.2"/><path d="M170.5 167.4V260.2M150.7 237.0H232.9" stroke="#2a2a2a" stroke-width="1.1" fill="none"/><path d="M150.70 260.2v3.4M156.89 260.2v2.4M160.50 260.2v2.4M163.07 260.2v2.4M165.06 260.2v2.4M166.69 260.2v2.4M168.07 260.2v2.4M169.26 260.2v2.4M170.31 260.2v2.4M171.25 260.2v3.4M177.44 260.2v2.4M181.05 260.2v2.4M183.62 260.2v2.4M185.61 260.2v2.4M187.24 260.2v2.4M188.62 260.2v2.4M189.81 260.2v2.4M190.86 260.2v2.4M191.80 260.2v3.4M197.99 260.2v2.4M201.60 260.2v2.4M204.17 260.2v2.4M206.16 260.2v2.4M207.79 260.2v2.4M209.17 260.2v2.4M210.36 260.2v2.4M211.41 260.2v2.4M212.35 260.2v3.4M218.54 260.2v2.4M222.15 260.2v2.4M224.72 260.2v2.4M226.71 260.2v2.4M228.34 260.2v2.4M229.72 260.2v2.4M230.91 260.2v2.4M231.96 260.2v2.4M232.90 260.2v3.4M150.7 260.20h-2.7M150.7 253.22h-1.4M150.7 249.13h-1.4M150.7 246.23h-1.4M150.7 243.98h-1.4M150.7 242.15h-1.4M150.7 240.59h-1.4M150.7 239.25h-1.4M150.7 238.06h-1.4M150.7 237.00h-2.7M150.7 230.02h-1.4M150.7 225.93h-1.4M150.7 223.03h-1.4M150.7 220.78h-1.4M150.7 218.95h-1.4M150.7 217.39h-1.4M150.7 216.05h-1.4M150.7 214.86h-1.4M150.7 213.80h-2.7M150.7 206.82h-1.4M150.7 202.73h-1.4M150.7 199.83h-1.4M150.7 197.58h-1.4M150.7 195.75h-1.4M150.7 194.19h-1.4M150.7 192.85h-1.4M150.7 191.66h-1.4M150.7 190.60h-2.7M150.7 183.62h-1.4M150.7 179.53h-1.4M150.7 176.63h-1.4M150.7 174.38h-1.4M150.7 172.55h-1.4M150.7 170.99h-1.4M150.7 169.65h-1.4M150.7 168.46h-1.4M150.7 167.40h-2.7" stroke="#222" stroke-width="0.9" fill="none"/><text x="146.00" y="270.80" font-size="7.2" fill="#222">10<tspan font-size="4.6" dy="-1.9">0</tspan></text><text x="166.55" y="270.80" font-size="7.2" fill="#222">10<tspan font-size="4.6" dy="-1.9">1</tspan></text><text x="187.10" y="270.80" font-size="7.2" fill="#222">10<tspan font-size="4.6" dy="-1.9">2</tspan></text><text x="207.65" y="270.80" font-size="7.2" fill="#222">10<tspan font-size="4.6" dy="-1.9">3</tspan></text><text x="228.20" y="270.80" font-size="7.2" fill="#222">10<tspan font-size="4.6" dy="-1.9">4</tspan></text><text x="135.90" y="263.60" font-size="7.2" fill="#222">10<tspan font-size="4.6" dy="-1.9">0</tspan></text><text x="135.90" y="240.40" font-size="7.2" fill="#222">10<tspan font-size="4.6" dy="-1.9">1</tspan></text><text x="135.90" y="217.20" font-size="7.2" fill="#222">10<tspan font-size="4.6" dy="-1.9">2</tspan></text><text x="135.90" y="194.00" font-size="7.2" fill="#222">10<tspan font-size="4.6" dy="-1.9">3</tspan></text><text x="135.90" y="172.10" font-size="7.2" fill="#222">10<tspan font-size="4.6" dy="-1.9">4</tspan></text><text x="174.7" y="179.2" font-size="10.6" fill="#111">4.79</text><text x="190.4" y="282.4" font-size="10.2" text-anchor="middle" fill="#111">CD8-PerCP</text><text transform="translate(133.5,214.3) rotate(-90)" x="0" y="0" font-size="10.2" text-anchor="middle" fill="#111">FLY-PE</text><path d="M284.0 32.40V121.2H438.5" stroke="#8a8a8a" stroke-width="1" fill="none"/><text x="272.8" y="125.00" font-size="10.2" text-anchor="end" fill="#111">0</text><text x="272.8" y="95.40" font-size="10.2" text-anchor="end" fill="#111">20</text><text x="272.8" y="65.80" font-size="10.2" text-anchor="end" fill="#111">40</text><text x="272.8" y="36.20" font-size="10.2" text-anchor="end" fill="#111">60</text><path d="M281.0 121.20H284.0M281.0 91.60H284.0M281.0 62.00H284.0M281.0 32.40H284.0M284.00 121.2v3M326.20 121.2v3M368.40 121.2v3M410.60 121.2v3" stroke="#8a8a8a" stroke-width="1" fill="none"/><text x="306.00" y="144.4" font-size="10.3" text-anchor="middle" fill="#111">5:1</text><text x="348.20" y="144.4" font-size="10.3" text-anchor="middle" fill="#111">10:1</text><text x="390.40" y="144.4" font-size="10.3" text-anchor="middle" fill="#111">20:1</text><text x="432.60" y="144.4" font-size="10.3" text-anchor="middle" fill="#111">40:1</text><text y="159.5" font-size="10" fill="#111"><tspan x="315.8" textLength="35.6" lengthAdjust="spacingAndGlyphs">effector</tspan><tspan x="352.6">:</tspan><tspan x="359.5" textLength="25.6" lengthAdjust="spacingAndGlyphs">target</tspan><tspan x="392.8" textLength="18.6" lengthAdjust="spacingAndGlyphs">ratio</tspan></text><text transform="translate(254.0,74.8) rotate(-90)" font-size="9.4" text-anchor="middle" fill="#111">% SPecific lysis</text><path d="M305.10 59.04L347.30 44.24L389.50 44.24L431.70 59.04" stroke="#111" stroke-width="1.3" fill="none"/><path d="M305.10 55.74L308.40 59.04L305.10 62.34L301.80 59.04Z" fill="#3a3a3a" stroke="#000" stroke-width="1"/><path d="M347.30 40.94L350.60 44.24L347.30 47.54L344.00 44.24Z" fill="#3a3a3a" stroke="#000" stroke-width="1"/><path d="M389.50 40.94L392.80 44.24L389.50 47.54L386.20 44.24Z" fill="#3a3a3a" stroke="#000" stroke-width="1"/><path d="M431.70 55.74L435.00 59.04L431.70 62.34L428.40 59.04Z" fill="#3a3a3a" stroke="#000" stroke-width="1"/><path d="M305.10 110.84L347.30 91.60L389.50 79.76L431.70 66.74" stroke="#111" stroke-width="1.3" fill="none"/><path d="M301.90 107.64L308.30 114.04M308.30 107.64L301.90 114.04" stroke="#000" stroke-width="1.2"/><path d="M344.10 88.40L350.50 94.80M350.50 88.40L344.10 94.80" stroke="#000" stroke-width="1.2"/><path d="M386.30 76.56L392.70 82.96M392.70 76.56L386.30 82.96" stroke="#000" stroke-width="1.2"/><path d="M428.50 63.54L434.90 69.94M434.90 63.54L428.50 69.94" stroke="#000" stroke-width="1.2"/><path d="M305.10 110.84L347.30 110.84L389.50 95.30L431.70 83.02" stroke="#111" stroke-width="1.3" fill="none"/><path d="M305.10 107.04L308.80 114.04L301.40 114.04Z" fill="#000"/><path d="M347.30 107.04L351.00 114.04L343.60 114.04Z" fill="#000"/><path d="M389.50 91.50L393.20 98.50L385.80 98.50Z" fill="#000"/><path d="M431.70 79.22L435.40 86.22L428.00 86.22Z" fill="#000"/><path d="M305.10 101.96L347.30 100.48L389.50 98.85L431.70 93.38" stroke="#111" stroke-width="1.3" fill="none"/><circle cx="305.10" cy="101.96" r="3.5" fill="#000"/><circle cx="347.30" cy="100.48" r="3.5" fill="#000"/><circle cx="389.50" cy="98.85" r="3.5" fill="#000"/><circle cx="431.70" cy="93.38" r="3.5" fill="#000"/><path d="M305.10 121.20L347.30 121.20L389.50 118.24L431.70 115.58" stroke="#111" stroke-width="1.3" fill="none"/><rect x="302.15" y="118.25" width="5.9" height="5.9" fill="#404040" stroke="#000" stroke-width="1"/><rect x="344.35" y="118.25" width="5.9" height="5.9" fill="#404040" stroke="#000" stroke-width="1"/><rect x="386.55" y="115.29" width="5.9" height="5.9" fill="#404040" stroke="#000" stroke-width="1"/><rect x="428.75" y="112.63" width="5.9" height="5.9" fill="#404040" stroke="#000" stroke-width="1"/><text x="440" y="53.8" font-size="8.8" fill="#111">Auto LCL</text><text x="440" y="69" font-size="8.8" fill="#111">SNK 10</text><text x="440" y="88.2" font-size="8.8" fill="#111">SNT 16</text><text x="440" y="99" font-size="8.8" fill="#111">SNK 6</text><text x="440" y="119.3" font-size="8.8" fill="#111">mismatch LCL</text><path d="M497.5 26.5Q502.0 26.2 502.0 29.5V152.3Q502.0 155.60000000000002 497.5 155.3M502.0 90.8h4.5" stroke="#222" stroke-width="1.3" fill="none"/><text transform="translate(517.0,91.6) rotate(-90)" font-size="10" text-anchor="middle" fill="#111">Patient 1</text><path d="M284.6 170.90V260.9H441.5" stroke="#8a8a8a" stroke-width="1" fill="none"/><text x="272.8" y="264.70" font-size="10.2" text-anchor="end" fill="#111">0</text><text x="272.8" y="246.70" font-size="10.2" text-anchor="end" fill="#111">20</text><text x="272.8" y="228.70" font-size="10.2" text-anchor="end" fill="#111">40</text><text x="272.8" y="210.70" font-size="10.2" text-anchor="end" fill="#111">60</text><text x="272.8" y="192.70" font-size="10.2" text-anchor="end" fill="#111">80</text><text x="272.8" y="174.70" font-size="10.2" text-anchor="end" fill="#111">100</text><path d="M281.6 260.90H284.6M281.6 242.90H284.6M281.6 224.90H284.6M281.6 206.90H284.6M281.6 188.90H284.6M281.6 170.90H284.6M284.60 260.9v3M327.50 260.9v3M370.40 260.9v3M413.30 260.9v3" stroke="#8a8a8a" stroke-width="1" fill="none"/><text x="307.15" y="284.0" font-size="10.3" text-anchor="middle" fill="#111">5:1</text><text x="350.05" y="284.0" font-size="10.3" text-anchor="middle" fill="#111">10:1</text><text x="392.95" y="284.0" font-size="10.3" text-anchor="middle" fill="#111">20:1</text><text x="435.85" y="284.0" font-size="10.3" text-anchor="middle" fill="#111">40:1</text><text y="294.0" font-size="10" fill="#111"><tspan x="321.8" textLength="35.6" lengthAdjust="spacingAndGlyphs">effector</tspan><tspan x="358.4">:</tspan><tspan x="365.0" textLength="25.6" lengthAdjust="spacingAndGlyphs">target</tspan><tspan x="398.2" textLength="18.6" lengthAdjust="spacingAndGlyphs">ratio</tspan></text><text transform="translate(253.2,214.4) rotate(-90)" font-size="9.4" text-anchor="middle" fill="#111">% SPecific lysis</text><path d="M306.55 221.84L349.45 198.44L392.35 187.82L435.25 177.74" stroke="#111" stroke-width="1.3" fill="none"/><path d="M306.55 218.24L310.15 221.84L306.55 225.44L302.95 221.84Z" fill="#000" stroke="#000" stroke-width="1"/><path d="M349.45 194.84L353.05 198.44L349.45 202.04L345.85 198.44Z" fill="#000" stroke="#000" stroke-width="1"/><path d="M392.35 184.22L395.95 187.82L392.35 191.42L388.75 187.82Z" fill="#000" stroke="#000" stroke-width="1"/><path d="M435.25 174.14L438.85 177.74L435.25 181.34L431.65 177.74Z" fill="#000" stroke="#000" stroke-width="1"/><path d="M306.55 236.06L349.45 223.10L392.35 221.75L435.25 223.46" stroke="#111" stroke-width="1.3" fill="none"/><path d="M306.55 232.26L310.25 239.26L302.85 239.26Z" fill="#000"/><path d="M349.45 219.30L353.15 226.30L345.75 226.30Z" fill="#000"/><path d="M392.35 217.95L396.05 224.95L388.65 224.95Z" fill="#000"/><path d="M435.25 219.66L438.95 226.66L431.55 226.66Z" fill="#000"/><path d="M306.55 249.83L349.45 245.15L392.35 236.06L435.25 234.80" stroke="#111" stroke-width="1.3" fill="none"/><circle cx="306.55" cy="249.83" r="3.5" fill="#000"/><circle cx="349.45" cy="245.15" r="3.5" fill="#000"/><circle cx="392.35" cy="236.06" r="3.5" fill="#000"/><circle cx="435.25" cy="234.80" r="3.5" fill="#000"/><path d="M306.55 260.36L349.45 253.52L392.35 257.66L435.25 258.02" stroke="#111" stroke-width="1.3" fill="none"/><rect x="303.75" y="257.56" width="5.6" height="5.6" fill="#222" stroke="#000" stroke-width="1"/><rect x="346.65" y="250.72" width="5.6" height="5.6" fill="#222" stroke="#000" stroke-width="1"/><rect x="389.55" y="254.86" width="5.6" height="5.6" fill="#222" stroke="#000" stroke-width="1"/><rect x="432.45" y="255.22" width="5.6" height="5.6" fill="#222" stroke="#000" stroke-width="1"/><path d="M306.55 260.54L349.45 260.90L392.35 260.00L435.25 259.82" stroke="#111" stroke-width="1.3" fill="none"/><path d="M303.35 257.34L309.75 263.74M309.75 257.34L303.35 263.74" stroke="#000" stroke-width="1.2"/><path d="M346.25 257.70L352.65 264.10M352.65 257.70L346.25 264.10" stroke="#000" stroke-width="1.2"/><path d="M389.15 256.80L395.55 263.20M395.55 256.80L389.15 263.20" stroke="#000" stroke-width="1.2"/><path d="M432.05 256.62L438.45 263.02M438.45 256.62L432.05 263.02" stroke="#000" stroke-width="1.2"/><text x="442" y="181.6" font-size="8.8" fill="#111">Auto LCL</text><text x="442" y="228.3" font-size="8.8" fill="#111">SNT 16</text><text x="442" y="238.5" font-size="8.8" fill="#111">SNK 6</text><text x="442" y="258.9" font-size="8.8" fill="#111">SNK 10</text><text x="442" y="268.9" font-size="8.8" fill="#111">mismatch LCL</text><path d="M497.8 160.7Q502.3 160.39999999999998 502.3 163.7V286.7Q502.3 290.0 497.8 289.7M502.3 225.6h4.5" stroke="#222" stroke-width="1.3" fill="none"/><text transform="translate(517.3,225.5) rotate(-90)" font-size="10" text-anchor="middle" fill="#111">Patient 2</text></g></svg>
</body></html>
